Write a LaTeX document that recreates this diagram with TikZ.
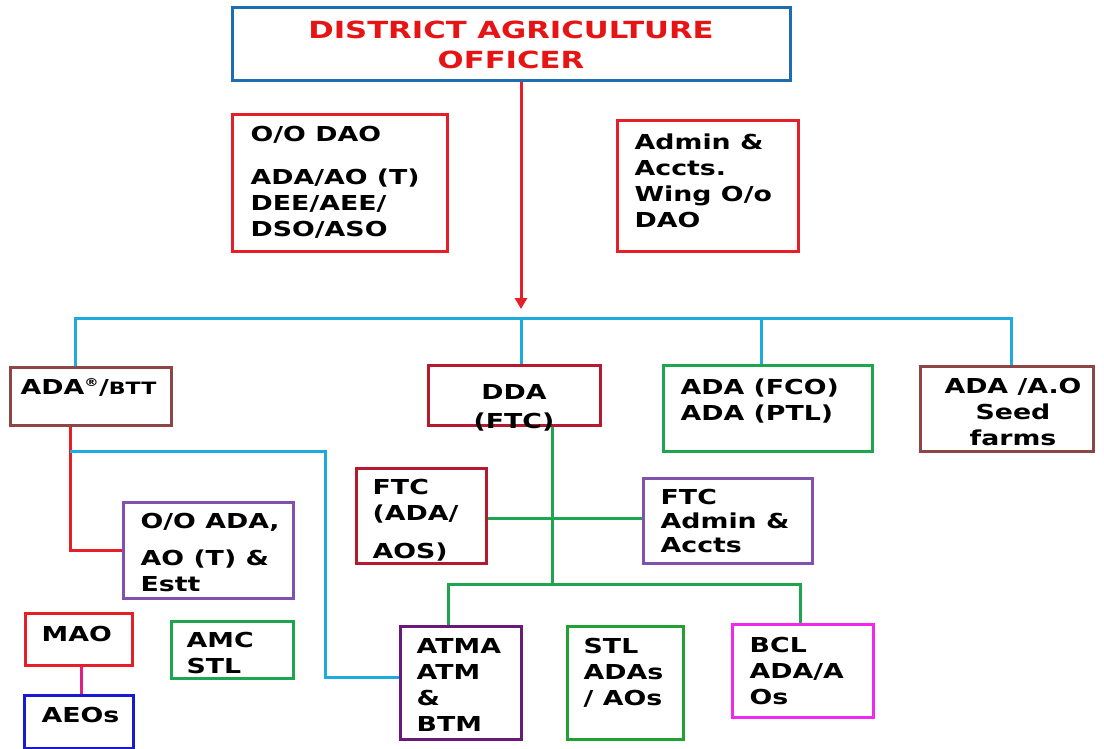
\documentclass[tikz,border=0pt]{standalone}
\usepackage{fontspec}
\setmainfont[FakeStretch=1.3]{DejaVu Sans}
\usetikzlibrary{arrows.meta}

\definecolor{daoblue}{RGB}{30,110,175}
\definecolor{titlered}{RGB}{230,20,20}
\definecolor{redA}{RGB}{230,30,40}
\definecolor{darkred}{RGB}{180,25,45}
\definecolor{brownA}{RGB}{140,70,70}
\definecolor{skyline}{RGB}{30,170,220}
\definecolor{greenA}{RGB}{30,165,80}
\definecolor{greenB}{RGB}{35,160,50}
\definecolor{purpleA}{RGB}{130,80,175}
\definecolor{purpleB}{RGB}{105,25,120}
\definecolor{blueA}{RGB}{25,25,210}
\definecolor{magentaA}{RGB}{240,40,240}
\definecolor{pinkline}{RGB}{225,30,130}

\tikzset{
  box/.style={rectangle, draw=#1, line width=3pt, inner sep=0pt},
  txt/.style={anchor=base west, align=left, inner sep=0pt, font=\fontsize{20.6}{26}\selectfont\bfseries},
  ctxt/.style={txt, anchor=base, align=center},
  link/.style={draw=#1, line width=3pt}
}

\begin{document}
\begin{tikzpicture}[x=1pt, y=-1pt]
\fill[white] (0,0) rectangle (1104,749);
\useasboundingbox (0,0) rectangle (1104,749);

\node[box=daoblue, minimum width=558, minimum height=73,
  label={[ctxt, yshift=-62, text=titlered, font=\fontsize{23.6}{30}\selectfont\bfseries]north:{DISTRICT AGRICULTURE\\OFFICER}}] (dao) at (511,44.5) {};

\node[box=redA, minimum width=215, minimum height=136,
  label={[txt, xshift=20, yshift=-123]north west:{O/O DAO\\[17pt]ADA/AO (T)\\DEE/AEE/\\DSO/ASO}}] (oodao) at (339.5,183) {};
\node[box=redA, minimum width=181, minimum height=130,
  label={[txt, xshift=19, yshift=-107.5]north west:{Admin \&\\Accts.\\Wing O/o\\DAO}}] (admin) at (707.5,186) {};

\node[box=brownA, minimum width=161, minimum height=58,
  label={[ctxt, xshift=-2, yshift=-29]north:{ADA\textsuperscript{\fontsize{11}{11}\selectfont ®}/{\fontsize{17}{26}\selectfont BTT}}}] (adabtt) at (90.5,396) {};
\node[box=darkred, minimum width=172, minimum height=60,
  label={[ctxt, yshift=-64.5, font=\fontsize{20.6}{29}\selectfont\bfseries]north:{DDA\\(FTC)}}] (dda) at (514,395) {};
\node[box=greenA, minimum width=209, minimum height=86,
  label={[txt, xshift=19, yshift=-57]north west:{ADA (FCO)\\ADA (PTL)}}] (fco) at (767.5,408) {};
\node[box=brownA, minimum width=173, minimum height=85,
  label={[ctxt, xshift=6.5, yshift=-81]north:{ADA /A.O\\Seed\\farms}}] (seed) at (1006.5,408.5) {};

\node[box=purpleA, minimum width=170, minimum height=96,
  label={[txt, xshift=19, yshift=-91]north west:{O/O ADA,\\[11pt]AO (T) \&\\Estt}}] (ooada) at (208,550) {};
\node[box=darkred, minimum width=130, minimum height=95,
  label={[txt, xshift=18, yshift=-92]north west:{FTC\\(ADA/\\[12pt]AOS)}}] (ftcada) at (421,515.5) {};
\node[box=purpleA, minimum width=169, minimum height=85,
  label={[txt, xshift=19, yshift=-76, font=\fontsize{20.6}{24}\selectfont\bfseries]north west:{FTC\\Admin \&\\Accts}}] (ftcadm) at (727.5,520.5) {};

\node[box=redA, minimum width=107, minimum height=52,
  label={[txt, xshift=18, yshift=-29.5]north west:{MAO}}] (mao) at (78.5,639) {};
\node[box=blueA, minimum width=109, minimum height=53,
  label={[txt, xshift=19, yshift=-28.5]north west:{AEOs}}] (aeos) at (78.5,721.5) {};
\node[box=greenA, minimum width=122, minimum height=57,
  label={[txt, xshift=17, yshift=-54]north west:{AMC\\STL}}] (amc) at (232,649.5) {};
\node[box=purpleB, minimum width=121, minimum height=113,
  label={[txt, xshift=18, yshift=-107]north west:{ATMA\\ATM\\\&\\BTM}}] (atma) at (460.5,682.5) {};
\node[box=greenB, minimum width=116, minimum height=113,
  label={[txt, xshift=18, yshift=-81]north west:{STL\\ADAs\\/ AOs}}] (stl) at (625,682.5) {};
\node[box=magentaA, minimum width=141, minimum height=93,
  label={[txt, xshift=19, yshift=-82]north west:{BCL\\ADA/A\\Os}}] (bcl) at (802.5,670.5) {};

\coordinate (tip) at (521,309);
\coordinate (busL) at (75,318);
\coordinate (busR) at (1011,318);
\coordinate (bttj) at (70,451);
\coordinate (atmaturn) at (325,677);
\coordinate (ddaj) at (552,584);
\coordinate (ftcj) at (552,518);

\draw[link=redA, -{Triangle[length=11pt,width=12pt]}] (dao.south -| tip) -- (tip);
\draw[link=skyline] (adabtt.north -| busL) -- (busL) -- (busR) -- (seed.north -| busR);
\draw[link=skyline] (busL -| tip) -- (dda.north -| tip);
\draw[link=skyline] (busL -| 761,0) -- (fco.north -| 761,0);
\draw[link=redA] (adabtt.south -| bttj) |- (ooada.west);
\draw[link=skyline] (bttj) -| (atmaturn) -- (atmaturn -| atma.west);
\draw[link=greenA] (dda.south -| ddaj) -- (ddaj);
\draw[link=greenA] (atma.north -| 448,0) -- (448,584) -- (800,584) -- (bcl.north -| 800,0);
\draw[link=greenA] (ftcada.east |- ftcj) -- (ftcadm.west |- ftcj);
\draw[link=pinkline] (mao.south -| 81,0) -- (aeos.north -| 81,0);
\end{tikzpicture}
\end{document}
